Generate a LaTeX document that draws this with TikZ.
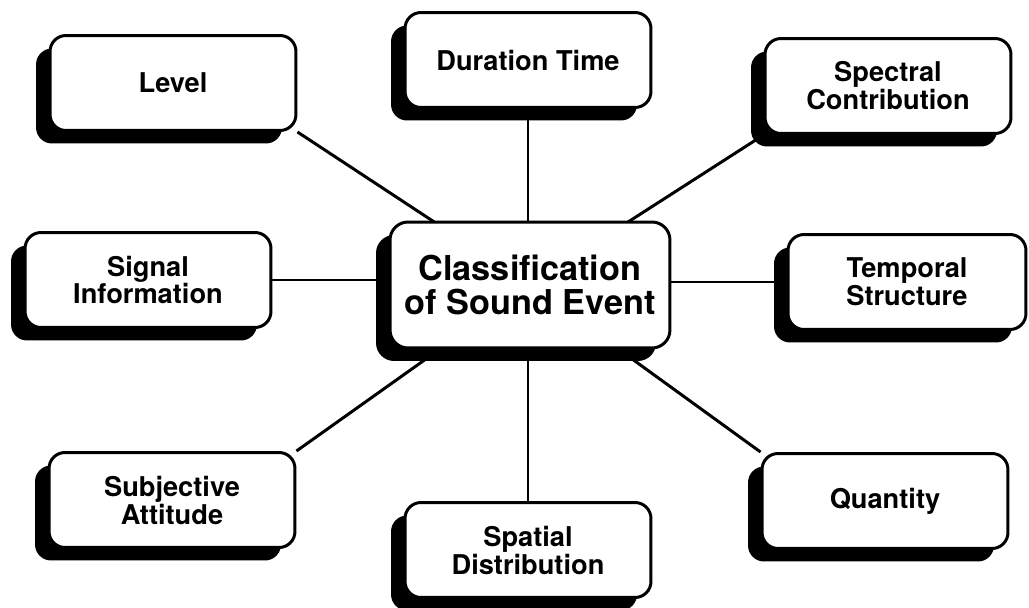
\documentclass[tikz,border=0pt]{standalone}
\usepackage{fontspec}
\setmainfont{TeX Gyre Heros}
\usetikzlibrary{shadows,backgrounds}
\begin{document}
\begin{tikzpicture}[x=0.02cm,y=-0.02cm,
  box/.style={draw, line width=1.7pt, fill=white, rounded corners=0.32cm,
    minimum width=4.92cm, minimum height=1.9cm, align=center, inner sep=0pt,
    font=\fontsize{15.5}{12.5}\selectfont\bfseries,
    drop shadow={shadow xshift=-0.28cm, shadow yshift=-0.26cm, fill=black, opacity=1}},
  link/.style={line width=1.7pt}]
\useasboundingbox (0,0) rectangle (1029,608);

\node[box] (level) at (173,83) {Level};
\node[box] (duration) at (528,60) {Duration Time};
\node[box] (spectral) at (888,86) {Spectral\\Contribution};
\node[box, font=\fontsize{15.5}{15.5}\selectfont\bfseries] (signal) at (148,280) {Signal\\Information};
\node[box, minimum width=4.76cm] (temporal) at (907,282) {Temporal\\Structure};
\node[box] (subjective) at (172,500) {Subjective\\Attitude};
\node[box] (spatial) at (528,550) {Spatial\\Distribution};
\node[box] (quantity) at (885,501) {Quantity};
\node[box, minimum width=5.6cm, minimum height=2.52cm, rounded corners=0.36cm,
  font=\fontsize{19.5}{19}\selectfont\bfseries] (center) at (530,285) {Classification\\of Sound Event};

\begin{scope}[on background layer]
\draw[link] (level.south east) -- (center.center);
\draw[link] (spectral.south west) -- (center.center);
\draw[link] (subjective.north east) -- (center.center);
\draw[link] (quantity.north west) -- (center.center);
\draw[link] (duration.south) -- (duration.south |- center.north);
\draw[link] (spatial.north) -- (spatial.north |- center.south);
\draw[link] (signal.east) -- (signal.east -| center.west);
\draw[link] (temporal.west) -- (temporal.west -| center.east);
\end{scope}
\end{tikzpicture}
\end{document}
